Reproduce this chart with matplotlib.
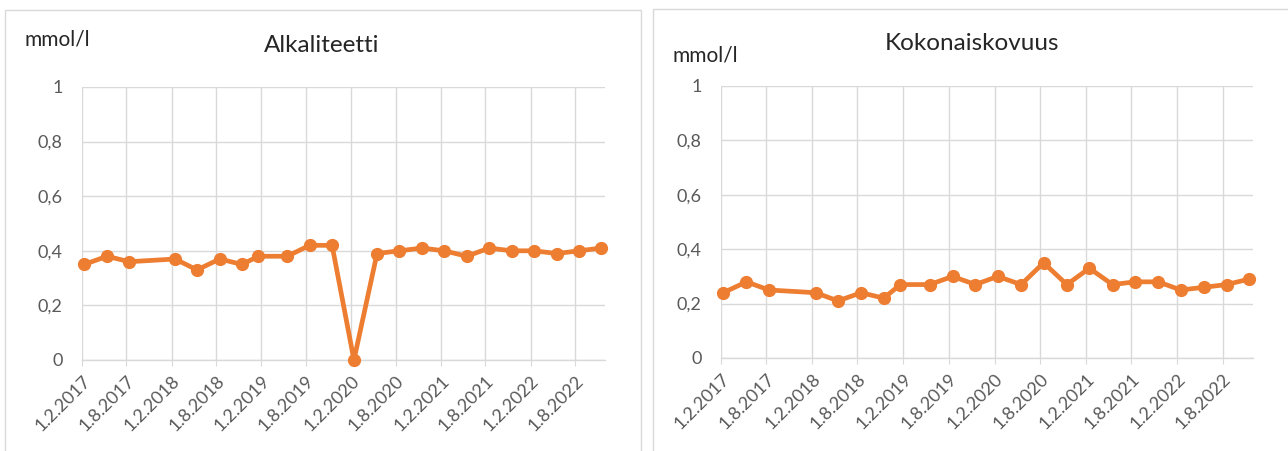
import datetime as dt
import matplotlib
matplotlib.use("Agg")
import matplotlib.pyplot as plt
import matplotlib.dates as mdates
from matplotlib.patches import Rectangle
from matplotlib.ticker import FuncFormatter, MultipleLocator

plt.rcParams["font.family"] = ["Lato", "DejaVu Sans"]

# Sampling dates (shared by both series)
sample_dates = [
    "2017-02-10", "2017-05-14", "2017-08-12", "2018-02-15", "2018-05-15",
    "2018-08-16", "2018-11-14", "2019-01-20", "2019-05-17", "2019-08-17",
    "2019-11-16", "2020-02-13", "2020-05-17", "2020-08-15", "2020-11-16",
    "2021-02-14", "2021-05-18", "2021-08-16", "2021-11-17", "2022-02-15",
    "2022-05-19", "2022-08-17", "2022-11-15",
]

alkaliteetti = [
    0.35, 0.38, 0.36, 0.37, 0.33, 0.37, 0.35, 0.38, 0.38, 0.42, 0.42, 0.00,
    0.39, 0.40, 0.41, 0.40, 0.38, 0.41, 0.40, 0.40, 0.39, 0.40, 0.41,
]

kokonaiskovuus = [
    0.24, 0.28, 0.25, 0.24, 0.21, 0.24, 0.22, 0.27, 0.27, 0.30, 0.27, 0.30,
    0.27, 0.35, 0.27, 0.33, 0.27, 0.28, 0.28, 0.25, 0.26, 0.27, 0.29,
]

titles = ["Alkaliteetti", "Kokonaiskovuus"]
unit_label = "mmol/l"

dates = [dt.datetime.strptime(d, "%Y-%m-%d") for d in sample_dates]

W, H = 1288, 451
fig = plt.figure(figsize=(W / 100, H / 100), dpi=100)

ORANGE = "#ED7D31"
GRID = "#D9D9D9"
TICK_TXT = "#595959"
TITLE_TXT = "#262626"


def fx(px):
    return px / W


def fy(py):
    return 1 - py / H


def date_fmt(x, pos):
    d = mdates.num2date(x)
    return f"{d.day}.{d.month}.{d.year}"


def comma_fmt(v, pos):
    s = f"{v:.1f}".rstrip("0").rstrip(".")
    return s.replace(".", ",")


panels = [
    # (plot box in pixels, panel frame, title pos, unit pos)
    dict(box=(82, 87, 605, 360), frame=(5, 10, 641, 455),
         title=(322, 45), unit=(25, 40)),
    dict(box=(721, 86, 1253, 358), frame=(653, 9, 1292, 455),
         title=(972, 44), unit=(673, 55)),
]

for panel, series, title in zip(panels, [alkaliteetti, kokonaiskovuus], titles):
    x0, y0, x1, y1 = panel["box"]
    ax = fig.add_axes([fx(x0), fy(y1), fx(x1 - x0), (y1 - y0) / H])

    ax.plot(dates, series, color=ORANGE, lw=3.4, marker="o", ms=8.5,
            markeredgecolor=ORANGE, solid_joinstyle="round", zorder=3,
            clip_on=False)

    ax.set_ylim(0, 1)
    ax.set_xlim(dt.datetime(2017, 2, 1), dt.datetime(2022, 12, 1))
    ax.yaxis.set_major_locator(MultipleLocator(0.2))
    ax.yaxis.set_major_formatter(FuncFormatter(comma_fmt))
    ax.xaxis.set_major_locator(mdates.MonthLocator(bymonth=[2, 8], bymonthday=1))
    ax.xaxis.set_major_formatter(FuncFormatter(date_fmt))

    ax.grid(True, color=GRID, lw=1)
    ax.set_axisbelow(True)
    for side in ["top", "right", "left"]:
        ax.spines[side].set_visible(False)
    ax.spines["bottom"].set_color(GRID)
    ax.spines["bottom"].set_linewidth(1)

    ax.tick_params(axis="y", length=0, pad=14, labelsize=13, labelcolor=TICK_TXT)
    ax.tick_params(axis="x", length=4, color=GRID, pad=5, labelsize=13,
                   labelcolor=TICK_TXT)
    for lab in ax.get_xticklabels():
        lab.set_rotation(45)
        lab.set_ha("right")
        lab.set_va("top")
        lab.set_rotation_mode("anchor")

    fx0, fy0, fx1, fy1 = panel["frame"]
    fig.add_artist(Rectangle((fx(fx0), fy(fy1)), fx(fx1 - fx0), (fy1 - fy0) / H,
                             transform=fig.transFigure, fill=False,
                             ec=GRID, lw=1))

    tx, ty = panel["title"]
    fig.text(fx(tx), fy(ty), title, ha="center", va="center", fontsize=17.5,
             color=TITLE_TXT)
    ux, uy = panel["unit"]
    fig.text(fx(ux), fy(uy), unit_label, ha="left", va="center", fontsize=15,
             color=TITLE_TXT)

fig.savefig("out.png", dpi=100, facecolor="white")
